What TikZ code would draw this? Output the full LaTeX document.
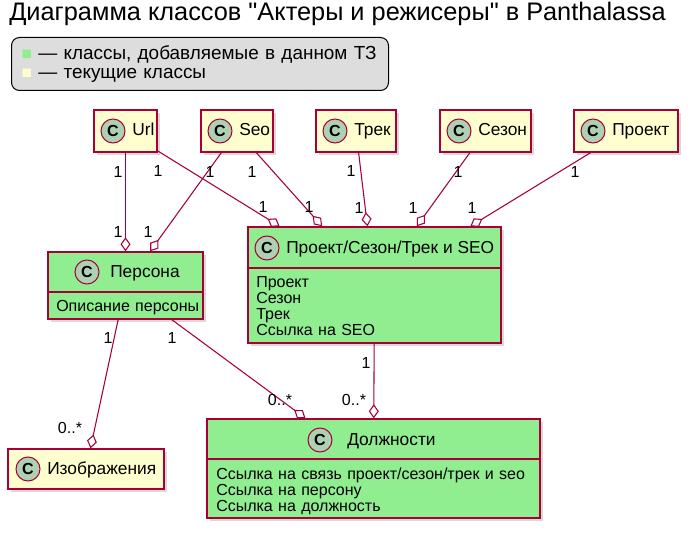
\documentclass[tikz,border=0pt]{standalone}
\usepackage{fontspec}
\setmainfont{Liberation Sans}[Ligatures=TeXOff]
\usepackage{tikz}
\usepackage{xcolor}
\usetikzlibrary{arrows.meta,positioning,shadows}
\definecolor{Crimson}{HTML}{A80036}
\definecolor{Cream}{HTML}{FEFECE}
\definecolor{LightGreen}{HTML}{90EE90}
\definecolor{IconGreen}{HTML}{ADD1B2}
\definecolor{LegendGray}{HTML}{DDDDDD}

\begin{document}
\begin{tikzpicture}[
  x=0.75pt,y=-0.75pt,
  oldcls/.style={draw=Crimson,line width=1.1pt,fill=Cream,inner sep=0pt,drop shadow={shadow xshift=2.5pt,shadow yshift=-2.5pt,opacity=0.3}},
  newcls/.style={oldcls,fill=LightGreen},
  boxsize/.style 2 args={minimum width=#1*0.75pt,minimum height=#2*0.75pt},
  cicon/.style={circle,draw=Crimson,line width=0.75pt,fill=IconGreen,minimum size=18pt,inner sep=0pt,font=\fontsize{12}{12}\selectfont\bfseries},
  clsname/.style={anchor=base west,inner sep=0pt,font=\fontsize{13}{13}\selectfont},
  attr/.style={anchor=base west,inner sep=0pt,text width=9cm,align=left,font=\fontsize{12}{12}\selectfont},
  sepline/.style={draw=Crimson,line width=1.1pt},
  mult/.style={inner sep=0pt,font=\fontsize{12}{12}\selectfont},
  legendbox/.style={draw=black,line width=0.75pt,fill=LegendGray,rounded corners=6pt,align=left,inner xsep=7.5pt,font=\fontsize{14.2}{14.6}\selectfont},
  assoc/.style={draw=Crimson,line width=0.8pt,-{Diamond[length=10.5pt,width=7.5pt,fill=white]}}
]
\useasboundingbox (0,0) rectangle (700,542);

% title and legend
\node[anchor=base west,inner sep=0pt,font=\fontsize{19}{20}\selectfont] (title) at (9,21) {Диаграмма классов "Актеры и режисеры" в Panthalassa};
\node[legendbox,anchor=north west,boxsize={377}{53},text width=267.75pt] (legend) at (11,37)
  {{\fontsize{13}{13}\selectfont\textcolor{LightGreen}{■}} — классы, добавляемые в данном ТЗ\\{\fontsize{13}{13}\selectfont\textcolor{Cream}{■}} — текущие классы};

% current classes
\node[oldcls,boxsize={63}{42}] (url) at (125.5,131) {};
\node[cicon] (urlC) at (113,131) {C};
\node[clsname] (urlN) at (132,136) {Url};

\node[oldcls,boxsize={72}{42}] (seo) at (237,131) {};
\node[cicon] (seoC) at (220,131) {C};
\node[clsname] (seoN) at (239,136) {Seo};

\node[oldcls,boxsize={80}{42}] (trek) at (356,131) {};
\node[cicon] (trekC) at (335,131) {C};
\node[clsname] (trekN) at (354,136) {Трек};

\node[oldcls,boxsize={91}{42}] (sezon) at (485.5,131) {};
\node[cicon] (sezonC) at (459,131) {C};
\node[clsname] (sezonN) at (478,136) {Сезон};

\node[oldcls,boxsize={104}{42}] (proekt) at (626,131) {};
\node[cicon] (proektC) at (593,131) {C};
\node[clsname] (proektN) at (612,136) {Проект};

\node[oldcls,boxsize={156}{40}] (izobr) at (86,469) {};
\node[cicon] (izobrC) at (28,469) {C};
\node[clsname] (izobrN) at (47,474) {Изображения};

% new classes
\node[newcls,boxsize={155}{67}] (persona) at (125.5,285.5) {};
\node[cicon] (personaC) at (87,272) {C};
\node[clsname] (personaN) at (110,277) {Персона};
\draw[sepline] (persona.west |- 0,292) -- (persona.east |- 0,292);
\node[attr] (personaA) at (56,311) {Описание персоны};

\node[newcls,boxsize={253}{116}] (pst) at (374.5,285) {};
\node[cicon] (pstC) at (267,248) {C};
\node[clsname] (pstN) at (286,253) {Проект/Сезон/Трек и SEO};
\draw[sepline] (pst.west |- 0,268) -- (pst.east |- 0,268);
\node[attr] (pstA) at (256,287) {Проект\\Сезон\\Трек\\Ссылка на SEO};

\node[newcls,boxsize={333}{99}] (dolzh) at (373.5,468.5) {};
\node[cicon] (dolzhC) at (320,440) {C};
\node[clsname] (dolzhN) at (347,445) {Должности};
\draw[sepline] (dolzh.west |- 0,459) -- (dolzh.east |- 0,459);
\node[attr] (dolzhA) at (216,479) {Ссылка на связь проект/сезон/трек и seo\\Ссылка на персону\\Ссылка на должность};

% aggregations
\draw[assoc] (url) -- (persona);
\draw[assoc] (url) -- (pst);
\draw[assoc] (seo) -- (persona);
\draw[assoc] (seo) -- (pst);
\draw[assoc] (trek) -- (pst);
\draw[assoc] (sezon) -- (pst);
\draw[assoc] (proekt) -- (pst);
\draw[assoc] (persona) -- (izobr);
\draw[assoc] (persona) -- (dolzh);
\draw[assoc] (pst) -- (dolzh);

% multiplicities
\node[mult] (m1a) at (118,172) {1};
\node[mult] (m1b) at (118,232) {1};
\node[mult] (m2a) at (158,171) {1};
\node[mult] (m2b) at (263,207) {1};
\node[mult] (m3a) at (210,172) {1};
\node[mult] (m3b) at (148,232) {1};
\node[mult] (m4a) at (252,172) {1};
\node[mult] (m4b) at (309,207) {1};
\node[mult] (m5a) at (351,171) {1};
\node[mult] (m5b) at (359,208) {1};
\node[mult] (m6a) at (458,172) {1};
\node[mult] (m6b) at (413,208) {1};
\node[mult] (m7a) at (575,172) {1};
\node[mult] (m7b) at (472,208) {1};
\node[mult] (m8a) at (108,338) {1};
\node[mult] (m8b) at (70,428) {0..*};
\node[mult] (m9a) at (172,338) {1};
\node[mult] (m9b) at (280,400) {0..*};
\node[mult] (m10a) at (366,363) {1};
\node[mult] (m10b) at (354,400) {0..*};
\end{tikzpicture}
\end{document}
